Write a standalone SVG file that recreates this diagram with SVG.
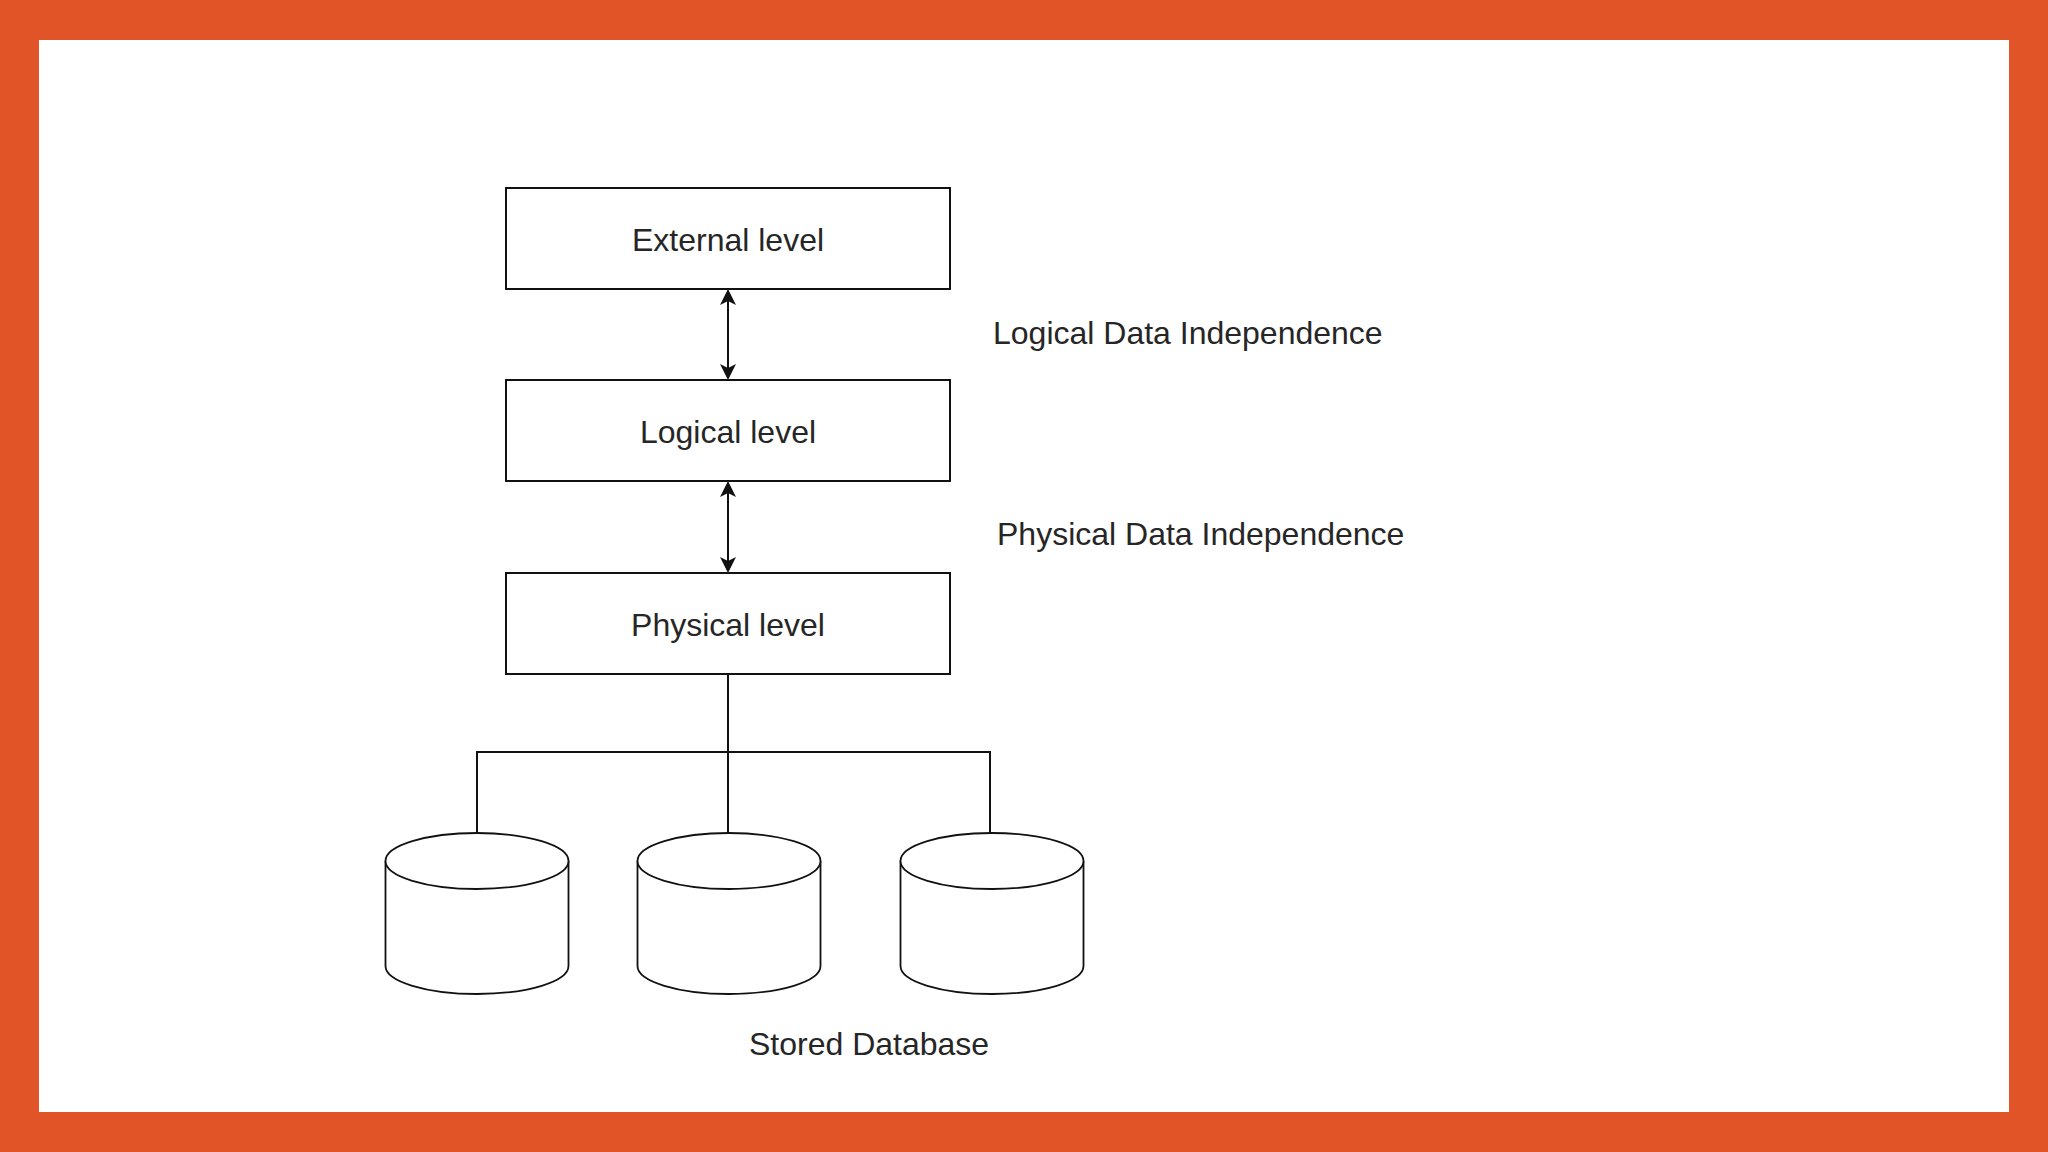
<svg xmlns="http://www.w3.org/2000/svg" width="2048" height="1152" viewBox="0 0 2048 1152">
  <style>
    .box { fill: #ffffff; stroke: #111111; stroke-width: 2; }
    .cyl { fill: #ffffff; stroke: #111111; stroke-width: 1.8; }
    .lbl { font-family: "Liberation Sans", Arial, sans-serif; font-size: 32px; fill: #262626; }
    .mid { text-anchor: middle; }
    .edge { fill: none; stroke: #111111; stroke-width: 2; }
  </style>
  <defs>
    <marker id="arr" viewBox="0 0 16 16" refX="12" refY="8" markerWidth="16" markerHeight="16" markerUnits="userSpaceOnUse" orient="auto-start-reverse">
      <path d="M0,0 L16,8 L0,16 L4,8 Z" fill="#111111"/>
    </marker>
    <g id="cylShape">
      <path class="cyl" d="M-91.5,28 L-91.5,133 A91.5,28 0 0 0 91.5,133 L91.5,28"/>
      <ellipse class="cyl" cx="0" cy="28" rx="91.5" ry="28"/>
    </g>
  </defs>

  <rect x="0" y="0" width="2048" height="1152" fill="#E05428"/>
  <rect x="39" y="40" width="1970" height="1072" fill="#ffffff"/>

  <g id="connectors">
    <line class="edge" x1="728" y1="293" x2="728" y2="376" marker-start="url(#arr)" marker-end="url(#arr)"/>
    <line class="edge" x1="728" y1="485" x2="728" y2="569" marker-start="url(#arr)" marker-end="url(#arr)"/>
    <path class="edge" d="M728,674 L728,833"/>
    <path class="edge" d="M477,833 L477,752 L990,752 L990,833"/>
  </g>

  <g id="external-level">
    <rect class="box" x="506" y="188" width="444" height="101"/>
    <text class="lbl mid" x="728" y="251">External level</text>
  </g>
  <g id="logical-level">
    <rect class="box" x="506" y="380" width="444" height="101"/>
    <text class="lbl mid" x="728" y="443">Logical level</text>
  </g>
  <g id="physical-level">
    <rect class="box" x="506" y="573" width="444" height="101"/>
    <text class="lbl mid" x="728" y="636">Physical level</text>
  </g>

  <g id="logical-data-independence">
    <text class="lbl" x="993" y="344">Logical Data Independence</text>
  </g>
  <g id="physical-data-independence">
    <text class="lbl" x="997" y="545">Physical Data Independence</text>
  </g>

  <g id="db1"><use href="#cylShape" x="477" y="833"/></g>
  <g id="db2"><use href="#cylShape" x="729" y="833"/></g>
  <g id="db3"><use href="#cylShape" x="992" y="833"/></g>

  <g id="stored-database">
    <text class="lbl" x="749" y="1055">Stored Database</text>
  </g>
</svg>
